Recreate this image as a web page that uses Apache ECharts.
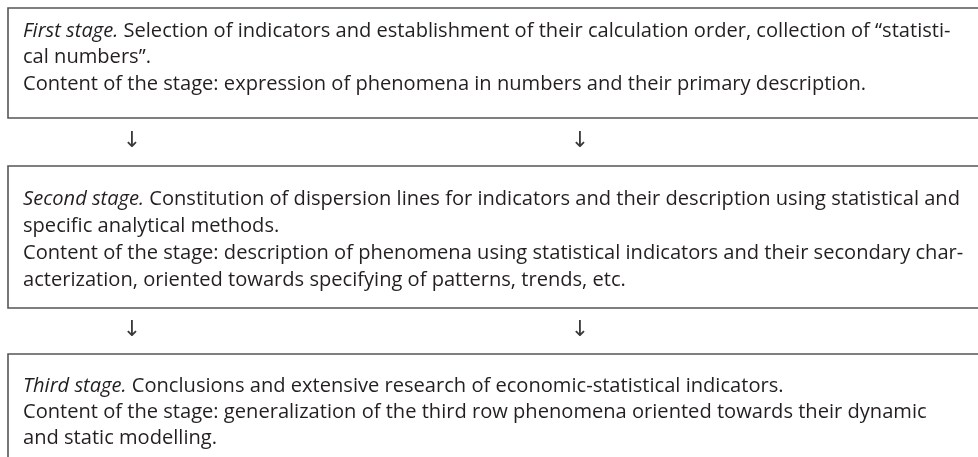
<!DOCTYPE html>
<html>
<head>
<meta charset="utf-8">
<script src="https://cdn.jsdelivr.net/npm/echarts@6/dist/echarts.min.js"></script>
<style>
html,body{margin:0;padding:0;background:#fff;}
#chart{width:978px;height:457px;}
</style>
</head>
<body>
<div id="chart"></div>
<script>
// ---- content ----
const stageTitles = ["First stage.", "Second stage.", "Third stage."];
const stage1Lines = [
  " Selection of indicators and establishment of their calculation order, collection of \u201cstatisti-",
  "cal numbers\u201d.",
  "Content of the stage: expression of phenomena in numbers and their primary description."
];
const stage2Lines = [
  " Constitution of dispersion lines for indicators and their description using statistical and",
  "specific analytical methods.",
  "Content of the stage: description of phenomena using statistical indicators and their secondary char-",
  "acterization, oriented towards specifying of patterns, trends, etc."
];
const stage3Lines = [
  " Conclusions and extensive research of economic-statistical indicators.",
  "Content of the stage: generalization of the third row phenomena oriented towards their dynamic",
  "and static modelling."
];
const arrowGlyph = "\u2193";

// ---- layout ----
const FONT = "'Open Sans', 'Noto Sans', sans-serif";
const TEXT_COLOR = "#231f20";
const BORDER_COLOR = "#555555";
const textX = 23;
const targetWidth = 937; // width of the first line of stage 2 in the reference

// fit the font size to the reference text width
const cnv = document.createElement('canvas').getContext('2d');
function measure(size) {
  cnv.font = "italic " + size + "px " + FONT;
  let w = cnv.measureText(stageTitles[1]).width;
  cnv.font = size + "px " + FONT;
  w += cnv.measureText(stage2Lines[0]).width;
  return w;
}
const baseSize = 16;
let fontSize = baseSize * targetWidth / measure(baseSize);
fontSize = Math.round(fontSize * 10) / 10;

const boxes = [
  { top: 8, bottom: 118, lines: stage1Lines, title: stageTitles[0], firstY: 31, step: 26.5 },
  { top: 166, bottom: 308, lines: stage2Lines, title: stageTitles[1], firstY: 199, step: 27 },
  { top: 354, bottom: 520, lines: stage3Lines, title: stageTitles[2], firstY: 386, step: 26 }
];
const arrowXs = [132, 580];
const arrowYs = [141, 330];

const graphic = [];
boxes.forEach(b => {
  graphic.push({
    type: 'rect',
    shape: { x: 8, y: b.top, width: 1100, height: b.bottom - b.top },
    style: { fill: 'none', stroke: BORDER_COLOR, lineWidth: 1.6 },
    silent: true
  });
  b.lines.forEach((ln, i) => {
    const txt = i === 0 ? "{it|" + b.title + "}" + ln : ln;
    graphic.push({
      type: 'text',
      x: textX,
      y: b.firstY + i * b.step,
      style: {
        text: txt,
        fontSize: fontSize,
        fontFamily: FONT,
        fill: TEXT_COLOR,
        verticalAlign: 'middle',
        align: 'left',
        rich: {
          it: { fontStyle: 'italic', fontSize: fontSize, fontFamily: FONT, fill: TEXT_COLOR }
        }
      },
      silent: true
    });
  });
});
arrowYs.forEach(y => {
  arrowXs.forEach(x => {
    graphic.push({
      type: 'text',
      x: x,
      y: y,
      style: {
        text: arrowGlyph,
        fontSize: 22,
        fontFamily: "'DejaVu Sans', sans-serif",
        fill: '#3a3a3a',
        align: 'center',
        verticalAlign: 'middle'
      },
      silent: true
    });
  });
});

const chart = echarts.init(document.getElementById('chart'), null, { renderer: 'canvas' });
chart.setOption({
  backgroundColor: '#ffffff',
  animation: false,
  graphic: graphic
});
</script>
</body>
</html>
